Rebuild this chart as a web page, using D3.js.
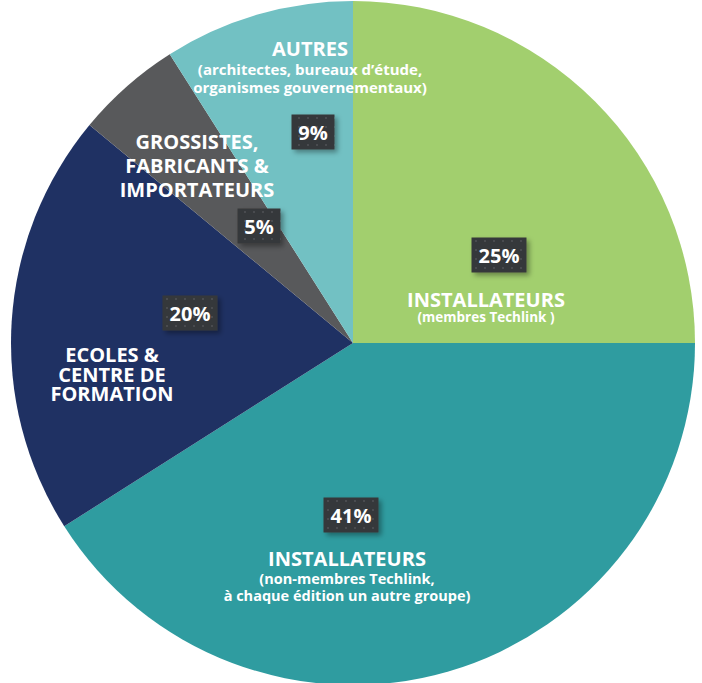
<!DOCTYPE html>
<html lang="fr">
<head>
<meta charset="UTF-8">
<title>Répartition des participants</title>
<script src="https://d3js.org/d3.v7.min.js"></script>
<style>
  body { margin: 0; padding: 0; background: #fff; }
  svg { display: block; font-family: "Open Sans", sans-serif; }
  .lbl { fill: #fff; font-weight: 700; text-anchor: middle; }
</style>
</head>
<body>
<script>
// données
var categories = ['INSTALLATEURS', 'INSTALLATEURS', 'ECOLES & CENTRE DE FORMATION', 'GROSSISTES, FABRICANTS & IMPORTATEURS', 'AUTRES'];
var values = [25, 41, 20, 5, 9];
var colors = ['#a2cf6e', '#2f9ca0', '#1f3163', '#58595b', '#72c1c3'];
var titleLines = [
  ['INSTALLATEURS'],
  ['INSTALLATEURS'],
  ['ECOLES &', 'CENTRE DE', 'FORMATION'],
  ['GROSSISTES,', 'FABRICANTS &', 'IMPORTATEURS'],
  ['AUTRES']
];
var subLines = [
  ['(membres Techlink )'],
  ['(non-membres Techlink,', 'à chaque édition un autre groupe)'],
  [],
  [],
  ['(architectes, bureaux d’étude,', 'organismes gouvernementaux)']
];

// mise en page (décalages depuis le centre)
var width = 702, height = 683;
var cx = 353, cy = 343, radius = 342;
var boxPos = [[146, -88], [-2, 172], [-163, -30], [-94, -117], [-40, -211]];
var titlePos = [[133, -36], [-6, 223], [-241, 19], [-156, -194], [-43, -287]];
var titleGap = [22, 22, 19.5, 24, 22];
var subFirst = [15, 18, 0, 0, 19];
var subGap = [17, 16.5, 0, 0, 18];
var subSize = [13.5, 14.5, 14, 14, 15];

var svg = d3.select('body').append('svg')
  .attr('width', width)
  .attr('height', height);

var defs = svg.append('defs');
var pat = defs.append('pattern')
  .attr('id', 'dots')
  .attr('width', 9).attr('height', 9)
  .attr('patternUnits', 'userSpaceOnUse');
pat.append('rect').attr('width', 9).attr('height', 9).attr('fill', '#35373a');
pat.append('rect').attr('x', 3).attr('y', 3).attr('width', 2).attr('height', 2).attr('fill', '#4a4c4f');

var filt = defs.append('filter').attr('id', 'shadow')
  .attr('x', '-30%').attr('y', '-30%').attr('width', '160%').attr('height', '160%');
filt.append('feDropShadow')
  .attr('dx', 3).attr('dy', 3).attr('stdDeviation', 2.5)
  .attr('flood-color', '#000').attr('flood-opacity', 0.35);

var g = svg.append('g').attr('transform', 'translate(' + cx + ',' + cy + ')');

var pie = d3.pie().sort(null).value(function(d) { return d; });
var arc = d3.arc().innerRadius(0).outerRadius(radius);
var arcs = pie(values);

g.selectAll('path.slice')
  .data(arcs)
  .enter().append('path')
  .attr('class', 'slice')
  .attr('d', arc)
  .attr('fill', function(d, i) { return colors[i]; });

// boîtes de pourcentage
var boxes = g.selectAll('g.box')
  .data(arcs)
  .enter().append('g')
  .attr('class', 'box')
  .attr('transform', function(d, i) { return 'translate(' + boxPos[i][0] + ',' + boxPos[i][1] + ')'; });

boxes.each(function(d) {
  var b = d3.select(this);
  var txt = d.value + '%';
  var w = txt.length > 2 ? 55 : 43;
  b.append('rect')
    .attr('x', -w / 2).attr('y', -17.5)
    .attr('width', w).attr('height', 35)
    .attr('fill', 'url(#dots)')
    .attr('filter', 'url(#shadow)');
  b.append('text')
    .attr('class', 'lbl')
    .attr('y', 7.5)
    .style('font-size', '20px')
    .text(txt);
});

// étiquettes
arcs.forEach(function(d, i) {
  var t = g.append('text')
    .attr('class', 'lbl')
    .attr('transform', 'translate(' + titlePos[i][0] + ',' + titlePos[i][1] + ')');
  titleLines[i].forEach(function(line, j) {
    t.append('tspan')
      .attr('x', 0)
      .attr('dy', j === 0 ? 0 : titleGap[i])
      .style('font-size', '20px')
      .text(line);
  });
  subLines[i].forEach(function(line, j) {
    t.append('tspan')
      .attr('x', 0)
      .attr('dy', j === 0 ? subFirst[i] : subGap[i])
      .style('font-size', subSize[i] + 'px')
      .text(line);
  });
});
</script>
</body>
</html>
